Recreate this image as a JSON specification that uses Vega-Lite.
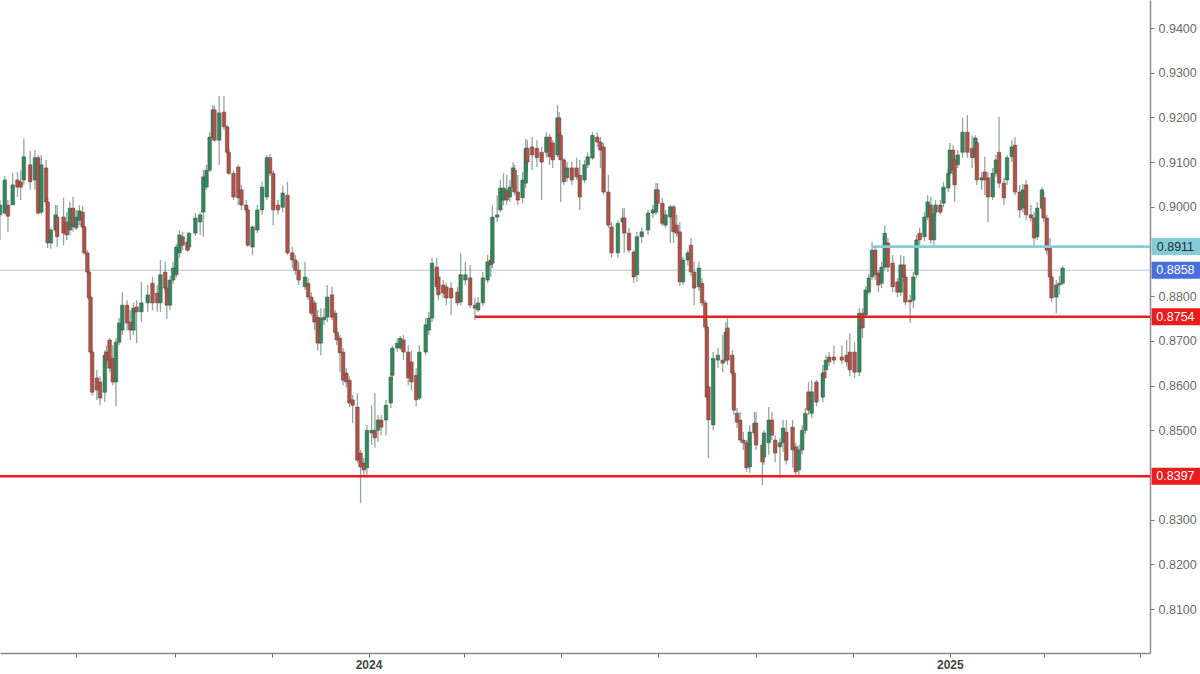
{
  "$schema": "https://vega.github.io/schema/vega-lite/v6.json",
  "width": 1150,
  "height": 653,
  "autosize": "none",
  "padding": {"left": 0, "top": 0, "right": 50, "bottom": 21},
  "background": "#ffffff",
  "config": {"view": {"stroke": null}, "font": "Liberation Sans"},
  "datasets": {
    "levels": [
      {"kind": "support", "level": 0.8397, "from": "2023-05-14", "to": "2025-05-07"},
      {"kind": "support", "level": 0.8754, "from": "2024-03-08", "to": "2025-05-07"},
      {"kind": "resistance", "level": 0.8911, "from": "2024-11-13", "to": "2025-05-07"},
      {"kind": "last", "level": 0.8858, "from": "2023-05-14", "to": "2025-05-07"}
    ],
    "candles": [
      {"d":"2023-05-14","o":0.8982,"h":0.9015,"l":0.8926,"c":0.9004},
      {"d":"2023-05-17","o":0.8986,"h":0.9069,"l":0.8982,"c":0.9060},
      {"d":"2023-05-19","o":0.9004,"h":0.9015,"l":0.8944,"c":0.8979},
      {"d":"2023-05-22","o":0.9004,"h":0.9076,"l":0.9004,"c":0.9049},
      {"d":"2023-05-25","o":0.9060,"h":0.9078,"l":0.9022,"c":0.9044},
      {"d":"2023-05-27","o":0.9056,"h":0.9082,"l":0.9015,"c":0.9044},
      {"d":"2023-05-29","o":0.9060,"h":0.9152,"l":0.9049,"c":0.9112},
      {"d":"2023-06-02","o":0.9094,"h":0.9125,"l":0.9038,"c":0.9056},
      {"d":"2023-06-05","o":0.9060,"h":0.9127,"l":0.9038,"c":0.9110},
      {"d":"2023-06-07","o":0.9110,"h":0.9116,"l":0.8982,"c":0.8986},
      {"d":"2023-06-09","o":0.8988,"h":0.9116,"l":0.8984,"c":0.9094},
      {"d":"2023-06-12","o":0.9087,"h":0.9105,"l":0.9004,"c":0.9011},
      {"d":"2023-06-13","o":0.9011,"h":0.9020,"l":0.8908,"c":0.8919},
      {"d":"2023-06-15","o":0.8919,"h":0.8953,"l":0.8906,"c":0.8948},
      {"d":"2023-06-18","o":0.8948,"h":0.9004,"l":0.8944,"c":0.8982},
      {"d":"2023-06-19","o":0.8977,"h":0.9004,"l":0.8910,"c":0.8933},
      {"d":"2023-06-23","o":0.8977,"h":0.9020,"l":0.8914,"c":0.8941},
      {"d":"2023-06-25","o":0.8966,"h":0.8988,"l":0.8926,"c":0.8937},
      {"d":"2023-06-27","o":0.8948,"h":0.9011,"l":0.8937,"c":0.8997},
      {"d":"2023-06-29","o":0.8997,"h":0.9022,"l":0.8944,"c":0.8955},
      {"d":"2023-07-01","o":0.8953,"h":0.8993,"l":0.8948,"c":0.8977},
      {"d":"2023-07-03","o":0.8970,"h":0.9004,"l":0.8959,"c":0.8991},
      {"d":"2023-07-05","o":0.8988,"h":0.9002,"l":0.8953,"c":0.8955},
      {"d":"2023-07-06","o":0.8955,"h":0.8959,"l":0.8892,"c":0.8897},
      {"d":"2023-07-08","o":0.8897,"h":0.8903,"l":0.8850,"c":0.8854},
      {"d":"2023-07-09","o":0.8854,"h":0.8858,"l":0.8791,"c":0.8796},
      {"d":"2023-07-10","o":0.8798,"h":0.8803,"l":0.8670,"c":0.8675},
      {"d":"2023-07-11","o":0.8675,"h":0.8679,"l":0.8577,"c":0.8585},
      {"d":"2023-07-14","o":0.8617,"h":0.8635,"l":0.8568,"c":0.8590},
      {"d":"2023-07-16","o":0.8608,"h":0.8621,"l":0.8556,"c":0.8572},
      {"d":"2023-07-19","o":0.8585,"h":0.8679,"l":0.8563,"c":0.8668},
      {"d":"2023-07-20","o":0.8675,"h":0.8690,"l":0.8646,"c":0.8657},
      {"d":"2023-07-22","o":0.8702,"h":0.8706,"l":0.8630,"c":0.8639},
      {"d":"2023-07-24","o":0.8661,"h":0.8690,"l":0.8601,"c":0.8608},
      {"d":"2023-07-26","o":0.8608,"h":0.8706,"l":0.8554,"c":0.8697},
      {"d":"2023-07-28","o":0.8697,"h":0.8751,"l":0.8690,"c":0.8740},
      {"d":"2023-07-30","o":0.8724,"h":0.8809,"l":0.8713,"c":0.8780},
      {"d":"2023-08-02","o":0.8780,"h":0.8791,"l":0.8724,"c":0.8740},
      {"d":"2023-08-04","o":0.8742,"h":0.8769,"l":0.8702,"c":0.8724},
      {"d":"2023-08-06","o":0.8724,"h":0.8785,"l":0.8713,"c":0.8773},
      {"d":"2023-08-08","o":0.8776,"h":0.8791,"l":0.8695,"c":0.8765},
      {"d":"2023-08-11","o":0.8765,"h":0.8832,"l":0.8742,"c":0.8785},
      {"d":"2023-08-15","o":0.8785,"h":0.8825,"l":0.8765,"c":0.8803},
      {"d":"2023-08-18","o":0.8829,"h":0.8843,"l":0.8769,"c":0.8785},
      {"d":"2023-08-21","o":0.8807,"h":0.8825,"l":0.8765,"c":0.8785},
      {"d":"2023-08-23","o":0.8785,"h":0.8881,"l":0.8765,"c":0.8848},
      {"d":"2023-08-26","o":0.8854,"h":0.8877,"l":0.8809,"c":0.8818},
      {"d":"2023-08-27","o":0.8818,"h":0.8836,"l":0.8749,"c":0.8780},
      {"d":"2023-08-29","o":0.8780,"h":0.8845,"l":0.8769,"c":0.8836},
      {"d":"2023-08-31","o":0.8836,"h":0.8877,"l":0.8827,"c":0.8863},
      {"d":"2023-09-02","o":0.8848,"h":0.8917,"l":0.8841,"c":0.8910},
      {"d":"2023-09-04","o":0.8897,"h":0.8948,"l":0.8886,"c":0.8937},
      {"d":"2023-09-06","o":0.8933,"h":0.8944,"l":0.8903,"c":0.8914},
      {"d":"2023-09-09","o":0.8921,"h":0.8930,"l":0.8899,"c":0.8903},
      {"d":"2023-09-10","o":0.8910,"h":0.8944,"l":0.8903,"c":0.8941},
      {"d":"2023-09-14","o":0.8941,"h":0.8986,"l":0.8935,"c":0.8975},
      {"d":"2023-09-17","o":0.8966,"h":0.8988,"l":0.8937,"c":0.8982},
      {"d":"2023-09-19","o":0.8988,"h":0.9082,"l":0.8933,"c":0.9067},
      {"d":"2023-09-21","o":0.9044,"h":0.9094,"l":0.9038,"c":0.9082},
      {"d":"2023-09-23","o":0.9082,"h":0.9167,"l":0.9078,"c":0.9156},
      {"d":"2023-09-25","o":0.9156,"h":0.9228,"l":0.9149,"c":0.9217},
      {"d":"2023-09-26","o":0.9217,"h":0.9226,"l":0.9145,"c":0.9149},
      {"d":"2023-09-29","o":0.9149,"h":0.9248,"l":0.9094,"c":0.9210},
      {"d":"2023-10-02","o":0.9212,"h":0.9248,"l":0.9172,"c":0.9179},
      {"d":"2023-10-04","o":0.9179,"h":0.9183,"l":0.9118,"c":0.9122},
      {"d":"2023-10-05","o":0.9122,"h":0.9131,"l":0.9071,"c":0.9075},
      {"d":"2023-10-08","o":0.9075,"h":0.9082,"l":0.9015,"c":0.9022},
      {"d":"2023-10-11","o":0.9089,"h":0.9094,"l":0.9004,"c":0.9020},
      {"d":"2023-10-13","o":0.9038,"h":0.9049,"l":0.8993,"c":0.9004},
      {"d":"2023-10-16","o":0.9004,"h":0.9015,"l":0.8988,"c":0.8993},
      {"d":"2023-10-17","o":0.8993,"h":0.8997,"l":0.8910,"c":0.8914},
      {"d":"2023-10-20","o":0.8910,"h":0.8959,"l":0.8892,"c":0.8955},
      {"d":"2023-10-23","o":0.8948,"h":0.9004,"l":0.8941,"c":0.8993},
      {"d":"2023-10-26","o":0.8993,"h":0.9056,"l":0.8982,"c":0.9044},
      {"d":"2023-10-29","o":0.9022,"h":0.9116,"l":0.9015,"c":0.9110},
      {"d":"2023-10-31","o":0.9110,"h":0.9118,"l":0.9069,"c":0.9075},
      {"d":"2023-11-02","o":0.9075,"h":0.9082,"l":0.8959,"c":0.8993},
      {"d":"2023-11-05","o":0.9004,"h":0.9015,"l":0.8982,"c":0.8993},
      {"d":"2023-11-08","o":0.8999,"h":0.9047,"l":0.8988,"c":0.9031},
      {"d":"2023-11-11","o":0.9026,"h":0.9056,"l":0.8892,"c":0.8897},
      {"d":"2023-11-14","o":0.8897,"h":0.8910,"l":0.8863,"c":0.8881},
      {"d":"2023-11-16","o":0.8881,"h":0.8892,"l":0.8848,"c":0.8858},
      {"d":"2023-11-18","o":0.8858,"h":0.8877,"l":0.8825,"c":0.8836},
      {"d":"2023-11-22","o":0.8821,"h":0.8877,"l":0.8814,"c":0.8843},
      {"d":"2023-11-24","o":0.8829,"h":0.8841,"l":0.8791,"c":0.8798},
      {"d":"2023-11-26","o":0.8798,"h":0.8809,"l":0.8756,"c":0.8762},
      {"d":"2023-11-28","o":0.8785,"h":0.8791,"l":0.8724,"c":0.8742},
      {"d":"2023-11-30","o":0.8753,"h":0.8769,"l":0.8679,"c":0.8695},
      {"d":"2023-12-02","o":0.8695,"h":0.8773,"l":0.8668,"c":0.8751},
      {"d":"2023-12-04","o":0.8747,"h":0.8773,"l":0.8736,"c":0.8753},
      {"d":"2023-12-06","o":0.8753,"h":0.8825,"l":0.8742,"c":0.8798},
      {"d":"2023-12-09","o":0.8803,"h":0.8821,"l":0.8747,"c":0.8753},
      {"d":"2023-12-11","o":0.8762,"h":0.8769,"l":0.8713,"c":0.8719},
      {"d":"2023-12-12","o":0.8719,"h":0.8729,"l":0.8690,"c":0.8702},
      {"d":"2023-12-14","o":0.8706,"h":0.8713,"l":0.8630,"c":0.8673},
      {"d":"2023-12-16","o":0.8675,"h":0.8684,"l":0.8601,"c":0.8612},
      {"d":"2023-12-18","o":0.8628,"h":0.8639,"l":0.8596,"c":0.8608},
      {"d":"2023-12-20","o":0.8612,"h":0.8621,"l":0.8552,"c":0.8561},
      {"d":"2023-12-22","o":0.8568,"h":0.8579,"l":0.8516,"c":0.8556},
      {"d":"2023-12-25","o":0.8552,"h":0.8583,"l":0.8427,"c":0.8433},
      {"d":"2023-12-27","o":0.8449,"h":0.8456,"l":0.8337,"c":0.8418},
      {"d":"2023-12-29","o":0.8427,"h":0.8438,"l":0.8397,"c":0.8411},
      {"d":"2023-12-31","o":0.8416,"h":0.8512,"l":0.8400,"c":0.8500},
      {"d":"2024-01-03","o":0.8494,"h":0.8556,"l":0.8467,"c":0.8500},
      {"d":"2024-01-05","o":0.8500,"h":0.8583,"l":0.8461,"c":0.8483},
      {"d":"2024-01-07","o":0.8500,"h":0.8534,"l":0.8474,"c":0.8523},
      {"d":"2024-01-09","o":0.8523,"h":0.8534,"l":0.8489,"c":0.8507},
      {"d":"2024-01-12","o":0.8523,"h":0.8568,"l":0.8489,"c":0.8556},
      {"d":"2024-01-15","o":0.8561,"h":0.8630,"l":0.8550,"c":0.8619},
      {"d":"2024-01-16","o":0.8623,"h":0.8690,"l":0.8612,"c":0.8684},
      {"d":"2024-01-19","o":0.8684,"h":0.8706,"l":0.8675,"c":0.8695},
      {"d":"2024-01-21","o":0.8684,"h":0.8711,"l":0.8679,"c":0.8706},
      {"d":"2024-01-23","o":0.8702,"h":0.8713,"l":0.8657,"c":0.8675},
      {"d":"2024-01-26","o":0.8675,"h":0.8690,"l":0.8601,"c":0.8617},
      {"d":"2024-01-28","o":0.8653,"h":0.8679,"l":0.8590,"c":0.8608},
      {"d":"2024-01-31","o":0.8623,"h":0.8639,"l":0.8554,"c":0.8568},
      {"d":"2024-02-02","o":0.8572,"h":0.8690,"l":0.8568,"c":0.8675},
      {"d":"2024-02-06","o":0.8675,"h":0.8751,"l":0.8668,"c":0.8736},
      {"d":"2024-02-08","o":0.8724,"h":0.8765,"l":0.8713,"c":0.8751},
      {"d":"2024-02-10","o":0.8751,"h":0.8886,"l":0.8742,"c":0.8874},
      {"d":"2024-02-13","o":0.8865,"h":0.8886,"l":0.8814,"c":0.8821},
      {"d":"2024-02-14","o":0.8843,"h":0.8854,"l":0.8791,"c":0.8803},
      {"d":"2024-02-17","o":0.8825,"h":0.8836,"l":0.8796,"c":0.8807},
      {"d":"2024-02-19","o":0.8821,"h":0.8829,"l":0.8780,"c":0.8796},
      {"d":"2024-02-22","o":0.8818,"h":0.8832,"l":0.8758,"c":0.8796},
      {"d":"2024-02-26","o":0.8809,"h":0.8821,"l":0.8778,"c":0.8785},
      {"d":"2024-02-28","o":0.8787,"h":0.8897,"l":0.8780,"c":0.8848},
      {"d":"2024-03-02","o":0.8836,"h":0.8877,"l":0.8825,"c":0.8848},
      {"d":"2024-03-05","o":0.8841,"h":0.8870,"l":0.8773,"c":0.8780},
      {"d":"2024-03-08","o":0.8780,"h":0.8796,"l":0.8747,"c":0.8773},
      {"d":"2024-03-10","o":0.8769,"h":0.8798,"l":0.8765,"c":0.8785},
      {"d":"2024-03-13","o":0.8785,"h":0.8854,"l":0.8778,"c":0.8841},
      {"d":"2024-03-16","o":0.8836,"h":0.8892,"l":0.8829,"c":0.8877},
      {"d":"2024-03-18","o":0.8881,"h":0.8903,"l":0.8843,"c":0.8870},
      {"d":"2024-03-19","o":0.8874,"h":0.9004,"l":0.8863,"c":0.8977},
      {"d":"2024-03-22","o":0.8977,"h":0.9026,"l":0.8966,"c":0.8982},
      {"d":"2024-03-24","o":0.8993,"h":0.9060,"l":0.8988,"c":0.9042},
      {"d":"2024-03-26","o":0.9015,"h":0.9075,"l":0.9004,"c":0.9042},
      {"d":"2024-03-28","o":0.9038,"h":0.9071,"l":0.9004,"c":0.9015},
      {"d":"2024-03-30","o":0.9022,"h":0.9060,"l":0.9011,"c":0.9044},
      {"d":"2024-04-01","o":0.9044,"h":0.9100,"l":0.9033,"c":0.9087},
      {"d":"2024-04-02","o":0.9082,"h":0.9094,"l":0.9026,"c":0.9033},
      {"d":"2024-04-04","o":0.9033,"h":0.9071,"l":0.9004,"c":0.9015},
      {"d":"2024-04-07","o":0.9020,"h":0.9078,"l":0.9008,"c":0.9060},
      {"d":"2024-04-09","o":0.9053,"h":0.9152,"l":0.9042,"c":0.9131},
      {"d":"2024-04-10","o":0.9131,"h":0.9149,"l":0.9078,"c":0.9100},
      {"d":"2024-04-13","o":0.9134,"h":0.9156,"l":0.9082,"c":0.9116},
      {"d":"2024-04-16","o":0.9131,"h":0.9149,"l":0.9089,"c":0.9110},
      {"d":"2024-04-19","o":0.9122,"h":0.9134,"l":0.9015,"c":0.9100},
      {"d":"2024-04-22","o":0.9122,"h":0.9167,"l":0.9110,"c":0.9156},
      {"d":"2024-04-24","o":0.9156,"h":0.9163,"l":0.9094,"c":0.9112},
      {"d":"2024-04-26","o":0.9143,"h":0.9149,"l":0.9087,"c":0.9105},
      {"d":"2024-04-29","o":0.9116,"h":0.9228,"l":0.9110,"c":0.9199},
      {"d":"2024-04-30","o":0.9199,"h":0.9212,"l":0.9154,"c":0.9160},
      {"d":"2024-05-01","o":0.9160,"h":0.9167,"l":0.9011,"c":0.9105},
      {"d":"2024-05-03","o":0.9105,"h":0.9110,"l":0.9049,"c":0.9056},
      {"d":"2024-05-05","o":0.9065,"h":0.9100,"l":0.9056,"c":0.9087},
      {"d":"2024-05-08","o":0.9087,"h":0.9100,"l":0.9049,"c":0.9060},
      {"d":"2024-05-11","o":0.9087,"h":0.9110,"l":0.9060,"c":0.9067},
      {"d":"2024-05-13","o":0.9071,"h":0.9105,"l":0.8993,"c":0.9022},
      {"d":"2024-05-16","o":0.9060,"h":0.9105,"l":0.9053,"c":0.9094},
      {"d":"2024-05-18","o":0.9094,"h":0.9122,"l":0.9087,"c":0.9112},
      {"d":"2024-05-21","o":0.9109,"h":0.9167,"l":0.9105,"c":0.9160},
      {"d":"2024-05-24","o":0.9156,"h":0.9167,"l":0.9134,"c":0.9145},
      {"d":"2024-05-26","o":0.9145,"h":0.9156,"l":0.9087,"c":0.9127},
      {"d":"2024-05-28","o":0.9134,"h":0.9143,"l":0.9026,"c":0.9033},
      {"d":"2024-05-31","o":0.9033,"h":0.9071,"l":0.8953,"c":0.8959},
      {"d":"2024-06-02","o":0.8955,"h":0.8966,"l":0.8886,"c":0.8897},
      {"d":"2024-06-06","o":0.8897,"h":0.8970,"l":0.8886,"c":0.8963},
      {"d":"2024-06-09","o":0.8966,"h":0.8997,"l":0.8953,"c":0.8975},
      {"d":"2024-06-10","o":0.8975,"h":0.8997,"l":0.8897,"c":0.8941},
      {"d":"2024-06-13","o":0.8941,"h":0.8953,"l":0.8897,"c":0.8903},
      {"d":"2024-06-16","o":0.8899,"h":0.8903,"l":0.8829,"c":0.8843},
      {"d":"2024-06-18","o":0.8848,"h":0.8944,"l":0.8832,"c":0.8933},
      {"d":"2024-06-21","o":0.8933,"h":0.8953,"l":0.8919,"c":0.8944},
      {"d":"2024-06-25","o":0.8948,"h":0.8993,"l":0.8937,"c":0.8986},
      {"d":"2024-06-28","o":0.8986,"h":0.9004,"l":0.8975,"c":0.8993},
      {"d":"2024-06-30","o":0.8988,"h":0.9053,"l":0.8982,"c":0.9038},
      {"d":"2024-07-01","o":0.9038,"h":0.9053,"l":0.8997,"c":0.9008},
      {"d":"2024-07-04","o":0.9008,"h":0.9020,"l":0.8957,"c":0.8963},
      {"d":"2024-07-06","o":0.8959,"h":0.8993,"l":0.8953,"c":0.8982},
      {"d":"2024-07-09","o":0.8977,"h":0.9004,"l":0.8919,"c":0.9000},
      {"d":"2024-07-11","o":0.9000,"h":0.9004,"l":0.8919,"c":0.8944},
      {"d":"2024-07-13","o":0.8959,"h":0.8982,"l":0.8933,"c":0.8941},
      {"d":"2024-07-15","o":0.8944,"h":0.8966,"l":0.8823,"c":0.8832},
      {"d":"2024-07-17","o":0.8832,"h":0.8888,"l":0.8825,"c":0.8881},
      {"d":"2024-07-20","o":0.8881,"h":0.8903,"l":0.8868,"c":0.8897},
      {"d":"2024-07-22","o":0.8914,"h":0.8930,"l":0.8845,"c":0.8854},
      {"d":"2024-07-24","o":0.8854,"h":0.8877,"l":0.8780,"c":0.8818},
      {"d":"2024-07-27","o":0.8821,"h":0.8877,"l":0.8812,"c":0.8863},
      {"d":"2024-07-29","o":0.8829,"h":0.8841,"l":0.8778,"c":0.8785},
      {"d":"2024-07-31","o":0.8785,"h":0.8791,"l":0.8724,"c":0.8731},
      {"d":"2024-08-01","o":0.8731,"h":0.8742,"l":0.8568,"c":0.8574},
      {"d":"2024-08-02","o":0.8597,"h":0.8601,"l":0.8438,"c":0.8523},
      {"d":"2024-08-05","o":0.8512,"h":0.8675,"l":0.8500,"c":0.8661},
      {"d":"2024-08-08","o":0.8657,"h":0.8684,"l":0.8639,"c":0.8668},
      {"d":"2024-08-11","o":0.8657,"h":0.8713,"l":0.8630,"c":0.8650},
      {"d":"2024-08-13","o":0.8657,"h":0.8742,"l":0.8652,"c":0.8720},
      {"d":"2024-08-14","o":0.8729,"h":0.8753,"l":0.8646,"c":0.8657},
      {"d":"2024-08-17","o":0.8668,"h":0.8679,"l":0.8623,"c":0.8628},
      {"d":"2024-08-18","o":0.8628,"h":0.8635,"l":0.8534,"c":0.8545},
      {"d":"2024-08-20","o":0.8538,"h":0.8550,"l":0.8505,"c":0.8518},
      {"d":"2024-08-22","o":0.8523,"h":0.8541,"l":0.8472,"c":0.8478},
      {"d":"2024-08-24","o":0.8478,"h":0.8496,"l":0.8456,"c":0.8472},
      {"d":"2024-08-26","o":0.8472,"h":0.8478,"l":0.8407,"c":0.8416},
      {"d":"2024-08-28","o":0.8418,"h":0.8512,"l":0.8405,"c":0.8496},
      {"d":"2024-08-31","o":0.8494,"h":0.8541,"l":0.8485,"c":0.8516},
      {"d":"2024-09-01","o":0.8516,"h":0.8541,"l":0.8456,"c":0.8467},
      {"d":"2024-09-05","o":0.8467,"h":0.8478,"l":0.8377,"c":0.8429},
      {"d":"2024-09-06","o":0.8440,"h":0.8500,"l":0.8423,"c":0.8494},
      {"d":"2024-09-09","o":0.8472,"h":0.8552,"l":0.8445,"c":0.8523},
      {"d":"2024-09-11","o":0.8523,"h":0.8541,"l":0.8478,"c":0.8489},
      {"d":"2024-09-13","o":0.8478,"h":0.8489,"l":0.8429,"c":0.8449},
      {"d":"2024-09-16","o":0.8463,"h":0.8483,"l":0.8393,"c":0.8472},
      {"d":"2024-09-18","o":0.8472,"h":0.8523,"l":0.8452,"c":0.8505},
      {"d":"2024-09-20","o":0.8496,"h":0.8523,"l":0.8423,"c":0.8433},
      {"d":"2024-09-24","o":0.8507,"h":0.8523,"l":0.8416,"c":0.8456},
      {"d":"2024-09-26","o":0.8463,"h":0.8472,"l":0.8397,"c":0.8407},
      {"d":"2024-09-28","o":0.8411,"h":0.8467,"l":0.8400,"c":0.8456},
      {"d":"2024-09-30","o":0.8456,"h":0.8512,"l":0.8445,"c":0.8500},
      {"d":"2024-10-02","o":0.8500,"h":0.8550,"l":0.8491,"c":0.8538},
      {"d":"2024-10-04","o":0.8586,"h":0.8608,"l":0.8534,"c":0.8545},
      {"d":"2024-10-06","o":0.8538,"h":0.8612,"l":0.8527,"c":0.8586},
      {"d":"2024-10-09","o":0.8608,"h":0.8612,"l":0.8554,"c":0.8563},
      {"d":"2024-10-13","o":0.8574,"h":0.8646,"l":0.8563,"c":0.8628},
      {"d":"2024-10-14","o":0.8630,"h":0.8646,"l":0.8608,"c":0.8617},
      {"d":"2024-10-15","o":0.8635,"h":0.8668,"l":0.8630,"c":0.8657},
      {"d":"2024-10-17","o":0.8664,"h":0.8675,"l":0.8644,"c":0.8653},
      {"d":"2024-10-20","o":0.8664,"h":0.8690,"l":0.8648,"c":0.8657},
      {"d":"2024-10-25","o":0.8664,"h":0.8690,"l":0.8648,"c":0.8657},
      {"d":"2024-10-28","o":0.8668,"h":0.8702,"l":0.8642,"c":0.8653},
      {"d":"2024-10-30","o":0.8675,"h":0.8717,"l":0.8621,"c":0.8635},
      {"d":"2024-11-02","o":0.8675,"h":0.8697,"l":0.8617,"c":0.8630},
      {"d":"2024-11-05","o":0.8630,"h":0.8773,"l":0.8621,"c":0.8762},
      {"d":"2024-11-07","o":0.8762,"h":0.8773,"l":0.8706,"c":0.8729},
      {"d":"2024-11-09","o":0.8758,"h":0.8823,"l":0.8751,"c":0.8814},
      {"d":"2024-11-11","o":0.8809,"h":0.8850,"l":0.8803,"c":0.8841},
      {"d":"2024-11-13","o":0.8843,"h":0.8921,"l":0.8836,"c":0.8903},
      {"d":"2024-11-15","o":0.8903,"h":0.8912,"l":0.8836,"c":0.8848},
      {"d":"2024-11-17","o":0.8852,"h":0.8858,"l":0.8809,"c":0.8825},
      {"d":"2024-11-19","o":0.8829,"h":0.8877,"l":0.8818,"c":0.8865},
      {"d":"2024-11-21","o":0.8865,"h":0.8959,"l":0.8858,"c":0.8941},
      {"d":"2024-11-23","o":0.8919,"h":0.8930,"l":0.8854,"c":0.8865},
      {"d":"2024-11-26","o":0.8874,"h":0.8892,"l":0.8809,"c":0.8821},
      {"d":"2024-11-29","o":0.8832,"h":0.8841,"l":0.8798,"c":0.8809},
      {"d":"2024-12-01","o":0.8809,"h":0.8892,"l":0.8800,"c":0.8870},
      {"d":"2024-12-03","o":0.8870,"h":0.8890,"l":0.8832,"c":0.8843},
      {"d":"2024-12-04","o":0.8843,"h":0.8854,"l":0.8780,"c":0.8787},
      {"d":"2024-12-07","o":0.8791,"h":0.8803,"l":0.8740,"c":0.8787},
      {"d":"2024-12-09","o":0.8791,"h":0.8854,"l":0.8773,"c":0.8843},
      {"d":"2024-12-11","o":0.8848,"h":0.8937,"l":0.8841,"c":0.8926},
      {"d":"2024-12-13","o":0.8941,"h":0.8953,"l":0.8914,"c":0.8926},
      {"d":"2024-12-16","o":0.8933,"h":0.8988,"l":0.8923,"c":0.8977},
      {"d":"2024-12-18","o":0.8977,"h":0.9026,"l":0.8970,"c":0.9011},
      {"d":"2024-12-20","o":0.9004,"h":0.9022,"l":0.8917,"c":0.8926},
      {"d":"2024-12-22","o":0.8926,"h":0.8997,"l":0.8914,"c":0.8986},
      {"d":"2024-12-23","o":0.8988,"h":0.9015,"l":0.8979,"c":0.9004},
      {"d":"2024-12-26","o":0.9004,"h":0.9015,"l":0.8982,"c":0.8988},
      {"d":"2024-12-28","o":0.9008,"h":0.9056,"l":0.8999,"c":0.9044},
      {"d":"2024-12-31","o":0.9042,"h":0.9087,"l":0.9033,"c":0.9075},
      {"d":"2025-01-01","o":0.9075,"h":0.9143,"l":0.9071,"c":0.9127},
      {"d":"2025-01-03","o":0.9127,"h":0.9138,"l":0.9071,"c":0.9082},
      {"d":"2025-01-04","o":0.9105,"h":0.9116,"l":0.9011,"c":0.9049},
      {"d":"2025-01-06","o":0.9094,"h":0.9127,"l":0.9087,"c":0.9116},
      {"d":"2025-01-09","o":0.9122,"h":0.9199,"l":0.9110,"c":0.9167},
      {"d":"2025-01-12","o":0.9167,"h":0.9205,"l":0.9110,"c":0.9122},
      {"d":"2025-01-15","o":0.9131,"h":0.9160,"l":0.9087,"c":0.9110},
      {"d":"2025-01-17","o":0.9110,"h":0.9160,"l":0.9098,"c":0.9154},
      {"d":"2025-01-18","o":0.9143,"h":0.9154,"l":0.9049,"c":0.9060},
      {"d":"2025-01-21","o":0.9060,"h":0.9078,"l":0.9038,"c":0.9065},
      {"d":"2025-01-23","o":0.9078,"h":0.9112,"l":0.9026,"c":0.9060},
      {"d":"2025-01-25","o":0.9065,"h":0.9078,"l":0.8966,"c":0.9022},
      {"d":"2025-01-28","o":0.9022,"h":0.9087,"l":0.9015,"c":0.9075},
      {"d":"2025-01-30","o":0.9075,"h":0.9116,"l":0.9067,"c":0.9105},
      {"d":"2025-02-01","o":0.9122,"h":0.9201,"l":0.9042,"c":0.9053},
      {"d":"2025-02-04","o":0.9053,"h":0.9065,"l":0.9004,"c":0.9020},
      {"d":"2025-02-06","o":0.9060,"h":0.9116,"l":0.9049,"c":0.9110},
      {"d":"2025-02-09","o":0.9112,"h":0.9149,"l":0.9100,"c":0.9134},
      {"d":"2025-02-11","o":0.9138,"h":0.9156,"l":0.9026,"c":0.9033},
      {"d":"2025-02-14","o":0.9033,"h":0.9049,"l":0.8975,"c":0.8993},
      {"d":"2025-02-16","o":0.8997,"h":0.9051,"l":0.8988,"c":0.9038},
      {"d":"2025-02-18","o":0.9049,"h":0.9060,"l":0.8970,"c":0.8982},
      {"d":"2025-02-21","o":0.8982,"h":0.9004,"l":0.8966,"c":0.8975},
      {"d":"2025-02-23","o":0.8975,"h":0.8988,"l":0.8914,"c":0.8930},
      {"d":"2025-02-25","o":0.8933,"h":0.9011,"l":0.8926,"c":0.8997},
      {"d":"2025-02-28","o":0.8997,"h":0.9044,"l":0.8993,"c":0.9038},
      {"d":"2025-03-01","o":0.9020,"h":0.9033,"l":0.8966,"c":0.8975},
      {"d":"2025-03-03","o":0.8975,"h":0.8982,"l":0.8892,"c":0.8903},
      {"d":"2025-03-05","o":0.8910,"h":0.8930,"l":0.8836,"c":0.8843},
      {"d":"2025-03-06","o":0.8843,"h":0.8854,"l":0.8787,"c":0.8796},
      {"d":"2025-03-09","o":0.8798,"h":0.8836,"l":0.8762,"c":0.8825},
      {"d":"2025-03-11","o":0.8829,"h":0.8845,"l":0.8803,"c":0.8825},
      {"d":"2025-03-13","o":0.8829,"h":0.8868,"l":0.8825,"c":0.8863}
    ]
  },
  "layer": [
    {
      "data": {"name": "levels"},
      "transform": [{"filter": "datum.kind === 'last'"}],
      "mark": {"type": "rule", "color": "#b4c3e4", "strokeWidth": 1.1},
      "encoding": {
        "x": {"field": "from", "type": "temporal", "scale": {"type": "utc", "padding": 0, "domain": [{"year": 2023, "month": 5, "date": 14, "utc": true}, {"year": 2025, "month": 5, "date": 7, "utc": true}]}, "axis": {
          "title": null,
          "values": [
            {"year": 2023, "month": 7, "date": 1, "utc": true},
            {"year": 2023, "month": 9, "date": 1, "utc": true},
            {"year": 2023, "month": 11, "date": 1, "utc": true},
            {"year": 2024, "month": 1, "date": 1, "utc": true},
            {"year": 2024, "month": 3, "date": 1, "utc": true},
            {"year": 2024, "month": 5, "date": 1, "utc": true},
            {"year": 2024, "month": 7, "date": 1, "utc": true},
            {"year": 2024, "month": 9, "date": 1, "utc": true},
            {"year": 2024, "month": 11, "date": 1, "utc": true},
            {"year": 2025, "month": 1, "date": 1, "utc": true},
            {"year": 2025, "month": 3, "date": 1, "utc": true},
            {"year": 2025, "month": 5, "date": 1, "utc": true}
          ],
          "labelExpr": "utcmonth(datum.value) === 0 ? utcFormat(datum.value, '%Y') : ''",
          "grid": false,
          "domainColor": "#8a8a8a",
          "domainWidth": 1.5,
          "tickColor": "#666666",
          "tickSize": 4,
          "labelColor": "#444444",
          "labelFontSize": 12,
          "labelFontWeight": "bold",
          "labelPadding": 2,
          "labelFlush": false,
          "labelOverlap": false
        }},
        "x2": {"field": "to"},
        "y": {"field": "level", "type": "quantitative", "scale": {"padding": 0, "domain": [0.80017, 0.94627], "nice": false, "zero": false}, "axis": {
          "orient": "right",
          "title": null,
          "values": [0.81, 0.82, 0.83, 0.85, 0.86, 0.87, 0.88, 0.90, 0.91, 0.92, 0.93, 0.94],
          "format": ".4f",
          "grid": false,
          "domainColor": "#8a8a8a",
          "domainWidth": 1.5,
          "tickColor": "#777777",
          "tickSize": 4,
          "labelColor": "#6b6b6b",
          "labelFontSize": 12.5,
          "labelPadding": 4
        }}
      }
    },
    {
      "data": {"name": "candles"},
      "mark": {"type": "rule", "color": "#7f978c", "strokeWidth": 1.3, "opacity": 0.85},
      "encoding": {
        "x": {"field": "d", "type": "temporal"},
        "y": {"field": "l", "type": "quantitative"},
        "y2": {"field": "h"}
      }
    },
    {
      "data": {"name": "candles"},
      "mark": {"type": "bar", "size": 3.6, "stroke": "#5a4a3c", "strokeWidth": 0.5},
      "encoding": {
        "x": {"field": "d", "type": "temporal"},
        "y": {"field": "o", "type": "quantitative"},
        "y2": {"field": "c"},
        "color": {"condition": {"test": "datum.c >= datum.o", "value": "#2c8a63"}, "value": "#b2504a"}
      }
    },
    {
      "data": {"name": "levels"},
      "transform": [{"filter": "datum.kind !== 'last'"}],
      "mark": {"type": "rule", "strokeWidth": 2.6},
      "encoding": {
        "x": {"field": "from", "type": "temporal"},
        "x2": {"field": "to"},
        "y": {"field": "level", "type": "quantitative"},
        "color": {"condition": {"test": "datum.kind === 'resistance'", "value": "#86cbd8"}, "value": "#ea1c1c"}
      }
    },
    {
      "data": {"name": "levels"},
      "mark": {"type": "bar", "orient": "horizontal", "size": 17},
      "encoding": {
        "x": {"datum": {"year": 2025, "month": 5, "date": 8, "utc": true}, "type": "temporal"},
        "x2": {"datum": {"year": 2025, "month": 6, "date": 8, "utc": true}},
        "y": {"field": "level", "type": "quantitative"},
        "color": {"condition": [
          {"test": "datum.kind === 'resistance'", "value": "#86cbd8"},
          {"test": "datum.kind === 'last'", "value": "#4a6fdc"}
        ], "value": "#ea1c1c"}
      }
    },
    {
      "data": {"name": "levels"},
      "mark": {"type": "text", "fontSize": 12.5, "fontWeight": "normal", "align": "center", "baseline": "middle"},
      "encoding": {
        "x": {"datum": {"year": 2025, "month": 5, "date": 23, "utc": true}, "type": "temporal"},
        "y": {"field": "level", "type": "quantitative"},
        "text": {"field": "level", "type": "quantitative", "format": ".4f"},
        "color": {"condition": {"test": "datum.kind === 'resistance'", "value": "#10303a"}, "value": "#ffffff"}
      }
    }
  ]
}
